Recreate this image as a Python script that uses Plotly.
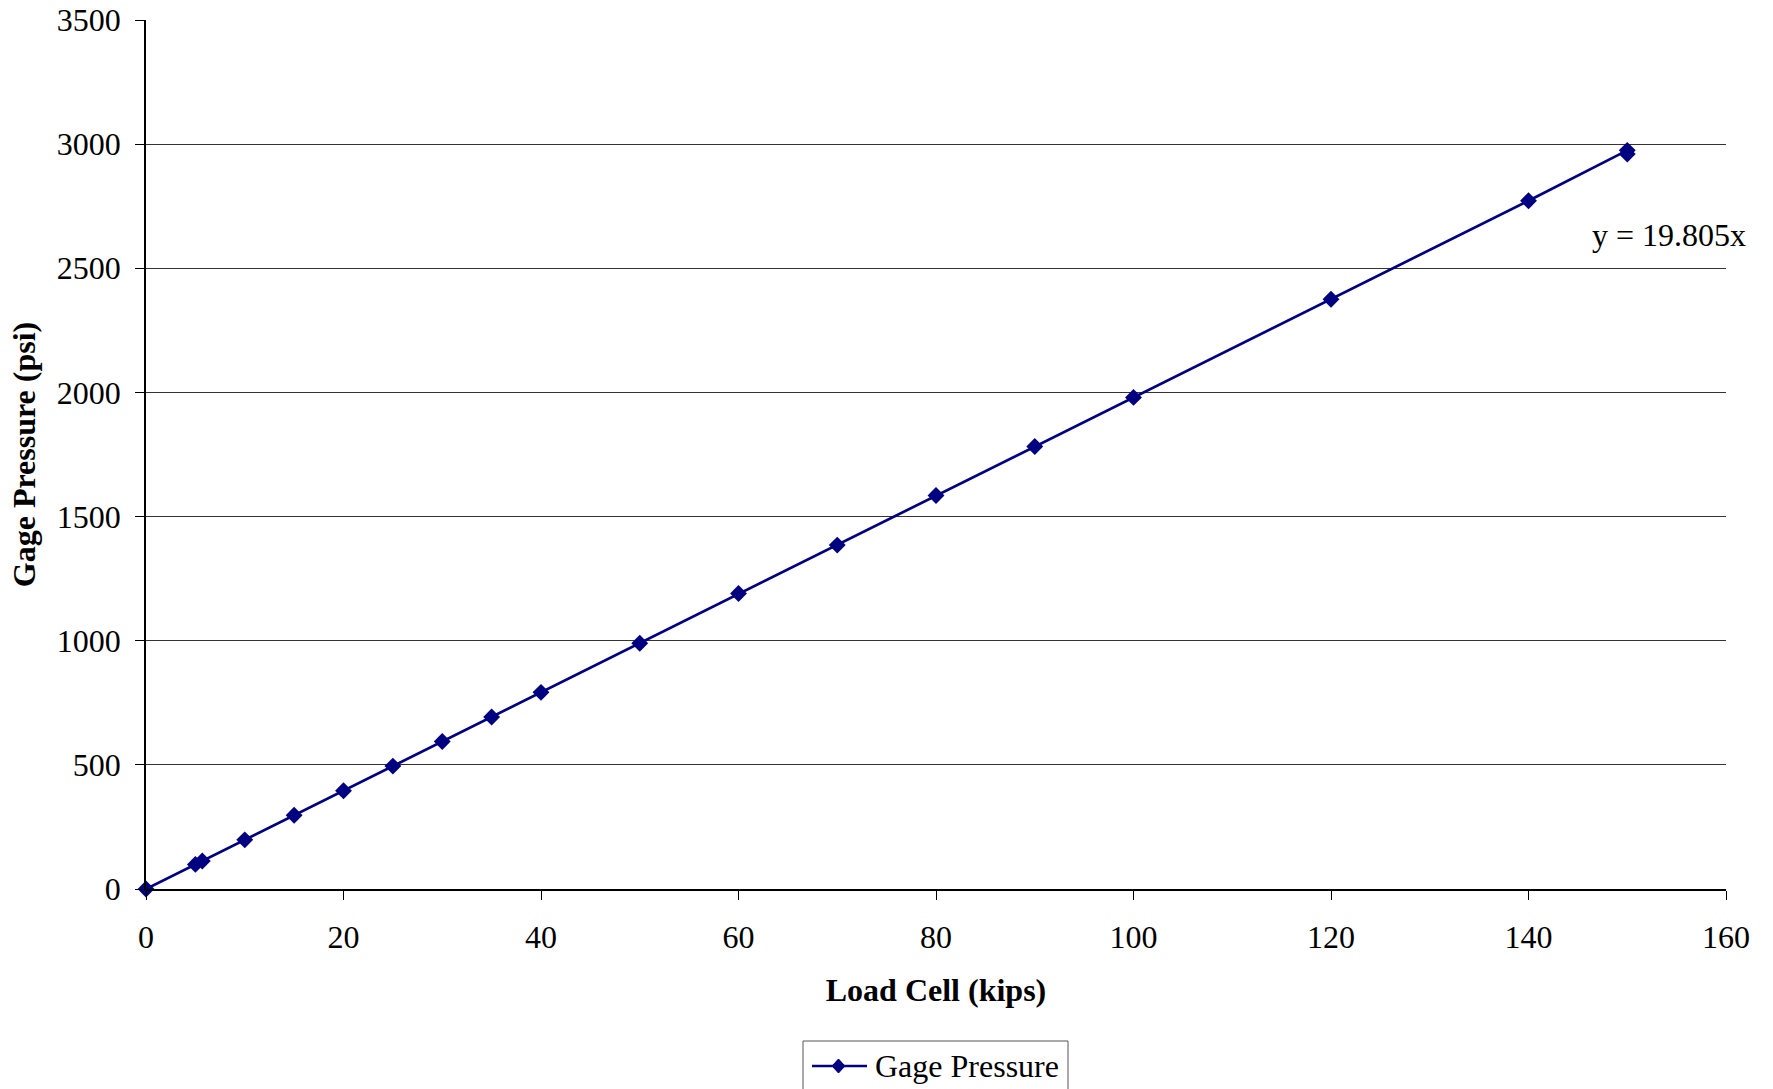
import plotly.graph_objects as go

# Load cell reading (kips) vs. gage pressure (psi)
load_kips = [0, 5, 5.7, 10, 15, 20, 25, 30, 35, 40, 50, 60, 70, 80, 90, 100, 120, 140, 150, 150]
gage_psi = [0, 99, 113, 198, 297, 396, 495, 594, 693, 792, 990, 1190, 1385, 1585, 1782, 1980, 2375, 2772, 2975, 2960]

x_ticks = [0, 20, 40, 60, 80, 100, 120, 140, 160]
y_ticks = [0, 500, 1000, 1500, 2000, 2500, 3000, 3500]

series_name = "Gage Pressure"
trend_label = "y = 19.805x"

FONT = "Liberation Serif, Times New Roman, serif"
FS = 32
NAVY = "#000080"

W, H = 1773, 1089
ML, MR, MT, MB = 146, 47, 20, 200
PW, PH = W - ML - MR, H - MT - MB


def px_to_paper(px, py):
    """Convert page pixel position to paper coordinates of the plot area."""
    return (px - ML) / PW, (H - MB - py) / PH


fig = go.Figure()
fig.add_trace(go.Scatter(
    x=load_kips, y=gage_psi,
    mode="lines+markers",
    name=series_name,
    line=dict(color=NAVY, width=2.7),
    marker=dict(symbol="diamond", size=13, color=NAVY),
    cliponaxis=False,
    showlegend=False,
))

fig.add_annotation(
    x=154.2, y=2633, xref="x", yref="y",
    text=trend_label, showarrow=False,
    font=dict(family=FONT, size=FS, color="black"),
)

# Boxed legend below the x-axis title
bx0, by0 = px_to_paper(803, 1041)
bx1, by1 = px_to_paper(1068, 1110)
fig.add_shape(type="rect", xref="paper", yref="paper",
              x0=bx0, y0=by1, x1=bx1, y1=by0,
              line=dict(color="#555555", width=1), fillcolor="white", layer="above")
lx0, ly = px_to_paper(812, 1066)
lx1, _ = px_to_paper(867, 1066)
fig.add_shape(type="line", xref="paper", yref="paper",
              x0=lx0, y0=ly, x1=lx1, y1=ly,
              line=dict(color=NAVY, width=2.7), layer="above")
cx, cy = 838.5, 1066
pts = [px_to_paper(cx, cy - 7), px_to_paper(cx + 6.5, cy),
       px_to_paper(cx, cy + 7), px_to_paper(cx - 6.5, cy)]
path = "M " + " L ".join(f"{x:.5f},{y:.5f}" for x, y in pts) + " Z"
fig.add_shape(type="path", xref="paper", yref="paper", path=path,
              fillcolor=NAVY, line=dict(color=NAVY, width=1), layer="above")
tx, ty = px_to_paper(873, 1066)
fig.add_annotation(x=tx, y=ty, xref="paper", yref="paper",
                   xanchor="left", yanchor="middle", showarrow=False,
                   text=series_name, font=dict(family=FONT, size=FS, color="black"))

fig.update_layout(
    width=W, height=H,
    margin=dict(l=ML, r=MR, t=MT, b=MB, autoexpand=False),
    paper_bgcolor="white", plot_bgcolor="white",
    font=dict(family=FONT, size=FS, color="black"),
    showlegend=False,
    xaxis=dict(
        range=[0, 160], tickvals=x_ticks,
        showgrid=False, zeroline=False,
        showline=True, linecolor="black", linewidth=1.5,
        ticks="outside", ticklen=9, tickcolor="black",
        ticklabelstandoff=10,
        tickfont=dict(family=FONT, size=FS),
        title=dict(text="<b>Load Cell (kips)</b>", font=dict(family=FONT, size=FS), standoff=24),
    ),
    yaxis=dict(
        range=[0, 3500], tickvals=y_ticks,
        showgrid=True, gridcolor="#333333", gridwidth=1,
        zeroline=False,
        showline=True, linecolor="black", linewidth=1.5,
        ticks="outside", ticklen=9, tickcolor="black",
        ticklabelstandoff=8,
        tickfont=dict(family=FONT, size=FS),
        title=dict(text="<b>Gage Pressure (psi)</b>", font=dict(family=FONT, size=FS), standoff=12),
    ),
)

fig.write_html("out.html")
